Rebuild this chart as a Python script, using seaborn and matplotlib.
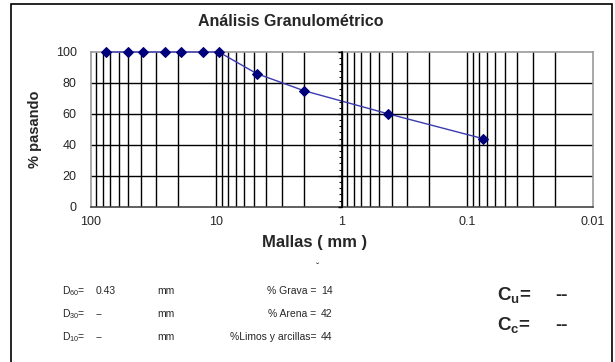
import matplotlib
matplotlib.use("Agg")
import matplotlib.pyplot as plt
import matplotlib.ticker as mticker
import numpy as np
import pandas as pd
import seaborn as sns

# Sieve analysis data
sieve_mm = [76.2, 50.8, 38.1, 25.4, 19.05, 12.7, 9.525, 4.75, 2.0, 0.425, 0.075]
passing = [100, 100, 100, 100, 100, 100, 100, 86, 75, 60, 44]

x_ticks = [100, 10, 1, 0.1, 0.01]
x_tick_labels = ["100", "10", "1", "0.1", "0.01"]
y_ticks = [0, 20, 40, 60, 80, 100]

d_labels = ["D$_{60}$=", "D$_{30}$=", "D$_{10}$="]
d_values = ["0.43", "--", "--"]
frac_labels = ["% Grava =", "% Arena =", "%Limos y arcillas="]
frac_values = ["14", "42", "44"]
coef_labels = [r"C$_\mathregular{u}$=", r"C$_\mathregular{c}$="]
coef_values = ["--", "--"]

sns.set_style("white")
plt.rcParams["font.family"] = ["Liberation Sans", "DejaVu Sans"]
plt.rcParams["mathtext.fontset"] = "custom"
plt.rcParams["mathtext.rm"] = "Liberation Sans"
plt.rcParams["mathtext.bf"] = "Liberation Sans:bold"

W, H = 615, 362
fig = plt.figure(figsize=(W / 100, H / 100), dpi=100)
fig.patch.set_facecolor("white")


def fx(px):
    return px / W


def fy(py):
    return 1 - py / H


# Outer chart frame
frame = plt.Rectangle((fx(11), fy(400)), fx(612) - fx(11), fy(4) - fy(400),
                      transform=fig.transFigure, fill=False, edgecolor="black",
                      linewidth=1.2)
fig.add_artist(frame)

ax = fig.add_axes([fx(90.7), fy(206.7), fx(592.7) - fx(90.7), fy(52) - fy(206.7)])
ax.set_xscale("log")
ax.set_xlim(100, 0.01)
ax.set_ylim(0, 100)

# Grid: every log minor/major position vertically, every 20 % horizontally
vgrid = []
for dec in [10, 1, 0.1, 0.01]:
    for m in range(1, 10):
        v = dec * m
        if 0.01 < v < 100:
            vgrid.append(v)
for v in vgrid:
    ax.axvline(v, color="black", linewidth=1.0, zorder=1)
for v in [20, 40, 60, 80]:
    ax.axhline(v, color="black", linewidth=1.0, zorder=1)

df = pd.DataFrame({"mm": sieve_mm, "pasa": passing})
sns.lineplot(data=df, x="mm", y="pasa", ax=ax, color="#3b3bb0", linewidth=1.0,
             marker="D", markersize=5, markerfacecolor="#00007a",
             markeredgecolor="#00007a", sort=False, zorder=5, clip_on=False)

ax.set_xticks(x_ticks)
ax.set_xticklabels(x_tick_labels)
ax.xaxis.set_minor_locator(mticker.NullLocator())
ax.set_yticks(y_ticks)
ax.tick_params(axis="x", which="major", direction="out", length=4, width=1,
               color="#555555", labelsize=9, pad=3)
ax.tick_params(axis="y", which="major", length=0, labelsize=9, pad=10)
for sp in ["left", "top", "right"]:
    ax.spines[sp].set_color("#999999")
    ax.spines[sp].set_linewidth(1.2)
ax.spines["bottom"].set_color("#444444")
ax.spines["bottom"].set_linewidth(1.2)
ax.set_xlabel("")
ax.set_ylabel("% pasando", fontsize=10.5, fontweight="bold", labelpad=10)

fig.text(fx(291), fy(22), "Análisis Granulométrico", fontsize=11.5,
         fontweight="bold", ha="center", va="center")
fig.text(fx(315), fy(243), "Mallas ( mm )", fontsize=12, fontweight="bold",
         ha="center", va="center")

# Value axis crossing at 1 mm, with minor ticks
ax2 = ax.twinx()
ax2.set_ylim(0, 100)
for sp in ["top", "right", "bottom"]:
    ax2.spines[sp].set_visible(False)
ax2.spines["left"].set_visible(True)
ax2.spines["left"].set_position(("data", 1))
ax2.spines["left"].set_color("black")
ax2.spines["left"].set_linewidth(1.2)
ax2.yaxis.set_ticks_position("left")
ax2.set_yticks(y_ticks)
ax2.yaxis.set_minor_locator(mticker.MultipleLocator(4))
ax2.tick_params(axis="y", which="both", direction="out", labelleft=False,
                labelright=False, color="black")
ax2.tick_params(axis="y", which="major", length=3, width=1)
ax2.tick_params(axis="y", which="minor", length=2.5, width=0.8)

# Summary table below the chart
fig.text(fx(318), fy(268), "ˇ", fontsize=7, ha="center", va="center")
row_y = [291, 314, 337]
for i, y in enumerate(row_y):
    fig.text(fx(62), fy(y), d_labels[i], fontsize=7.5, ha="left", va="center")
    fig.text(fx(96), fy(y), d_values[i], fontsize=7.5, ha="left", va="center")
    fig.text(fx(157), fy(y), "mm", fontsize=7.5, ha="left", va="center")
    fig.text(fx(316), fy(y), frac_labels[i], fontsize=7.5, ha="right", va="center")
    fig.text(fx(321), fy(y), frac_values[i], fontsize=7.5, ha="left", va="center")

for i, y in enumerate([296, 326]):
    fig.text(fx(497), fy(y), coef_labels[i], fontsize=13.5, fontweight="bold",
             ha="left", va="center")
    fig.text(fx(555), fy(y), coef_values[i], fontsize=13.5, fontweight="bold",
             ha="left", va="center")

fig.savefig("out.png", dpi=100)
